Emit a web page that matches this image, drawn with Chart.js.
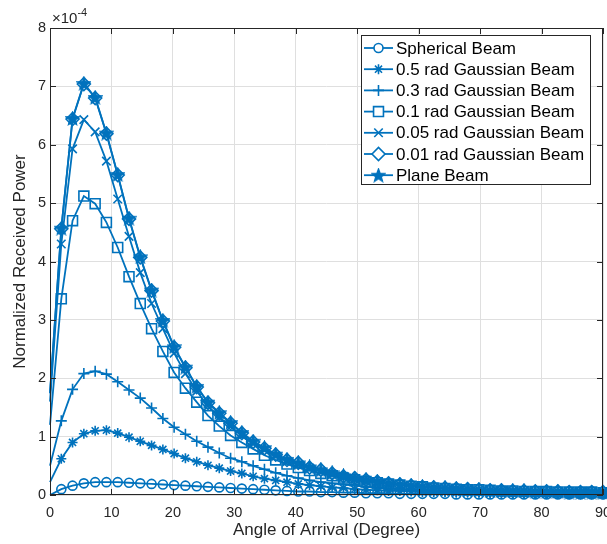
<!DOCTYPE html>
<html>
<head>
<meta charset="utf-8">
<script src="https://cdn.jsdelivr.net/npm/chart.js@4/dist/chart.umd.min.js"></script>
<style>
html, body { margin: 0; padding: 0; background: #fff; }
#wrap { width: 607px; height: 544px; position: relative; }
</style>
</head>
<body>
<div id="wrap"><canvas id="chart"></canvas></div>
<script>
// Angle of arrival (degrees), 50 samples between 0 and 90
const angles = [0, 1.84, 3.67, 5.51, 7.35, 9.18, 11.02, 12.86, 14.69, 16.53,
  18.37, 20.20, 22.04, 23.88, 25.71, 27.55, 29.39, 31.22, 33.06, 34.90,
  36.73, 38.57, 40.41, 42.24, 44.08, 45.92, 47.76, 49.59, 51.43, 53.27,
  55.10, 56.94, 58.78, 60.61, 62.45, 64.29, 66.12, 67.96, 69.80, 71.63,
  73.47, 75.31, 77.14, 78.98, 80.82, 82.65, 84.49, 86.33, 88.16, 90.00];

// Normalized received power, in units of 1e-4
const spherical = [0, 0.10, 0.16, 0.20, 0.22, 0.22, 0.22, 0.21, 0.20, 0.19,
  0.18, 0.17, 0.16, 0.15, 0.14, 0.13, 0.12, 0.11, 0.10, 0.09,
  0.08, 0.07, 0.06, 0.06, 0.05, 0.05, 0.04, 0.04, 0.03, 0.03,
  0.03, 0.02, 0.02, 0.02, 0.02, 0.02, 0.01, 0.01, 0.01, 0.01,
  0.01, 0.01, 0.01, 0.01, 0.01, 0.01, 0.01, 0.01, 0.01, 0.01];
const gauss05 = [0.22, 0.62, 0.90, 1.05, 1.10, 1.11, 1.06, 0.99, 0.92, 0.85,
  0.78, 0.71, 0.63, 0.57, 0.51, 0.46, 0.41, 0.37, 0.32, 0.28,
  0.25, 0.22, 0.19, 0.17, 0.15, 0.13, 0.12, 0.10, 0.09, 0.08,
  0.07, 0.07, 0.06, 0.05, 0.05, 0.05, 0.04, 0.04, 0.04, 0.03,
  0.03, 0.03, 0.03, 0.03, 0.02, 0.02, 0.02, 0.02, 0.02, 0.02];
const gauss03 = [0.50, 1.27, 1.81, 2.08, 2.12, 2.07, 1.94, 1.80, 1.66, 1.49,
  1.31, 1.16, 1.04, 0.92, 0.82, 0.72, 0.63, 0.57, 0.50, 0.44,
  0.38, 0.33, 0.29, 0.25, 0.22, 0.20, 0.18, 0.16, 0.14, 0.12,
  0.11, 0.10, 0.09, 0.08, 0.07, 0.07, 0.06, 0.06, 0.05, 0.05,
  0.05, 0.04, 0.04, 0.04, 0.04, 0.03, 0.03, 0.03, 0.03, 0.03];
const gauss01 = [1.20, 3.36, 4.70, 5.12, 4.99, 4.67, 4.24, 3.74, 3.28, 2.85,
  2.46, 2.10, 1.83, 1.59, 1.36, 1.18, 1.02, 0.90, 0.79, 0.68,
  0.60, 0.53, 0.47, 0.42, 0.37, 0.33, 0.29, 0.26, 0.23, 0.21,
  0.19, 0.17, 0.15, 0.14, 0.12, 0.11, 0.10, 0.09, 0.09, 0.08,
  0.07, 0.07, 0.06, 0.06, 0.06, 0.05, 0.05, 0.05, 0.05, 0.04];
const gauss005 = [1.60, 4.30, 5.93, 6.43, 6.22, 5.72, 5.07, 4.43, 3.81, 3.28,
  2.85, 2.43, 2.08, 1.78, 1.52, 1.33, 1.17, 1.02, 0.88, 0.77,
  0.67, 0.58, 0.52, 0.46, 0.41, 0.36, 0.32, 0.28, 0.25, 0.22,
  0.20, 0.18, 0.16, 0.14, 0.13, 0.12, 0.11, 0.10, 0.09, 0.08,
  0.08, 0.07, 0.07, 0.06, 0.06, 0.06, 0.05, 0.05, 0.05, 0.05];
const gauss001 = [1.74, 4.56, 6.44, 7.04, 6.80, 6.19, 5.48, 4.73, 4.07, 3.50,
  2.98, 2.53, 2.18, 1.85, 1.58, 1.40, 1.23, 1.06, 0.91, 0.80,
  0.69, 0.60, 0.55, 0.47, 0.43, 0.37, 0.32, 0.29, 0.26, 0.23,
  0.20, 0.18, 0.16, 0.14, 0.13, 0.12, 0.11, 0.10, 0.09, 0.08,
  0.08, 0.07, 0.07, 0.06, 0.06, 0.06, 0.05, 0.05, 0.05, 0.05];
const plane = [1.75, 4.57, 6.45, 7.05, 6.81, 6.20, 5.49, 4.74, 4.08, 3.51,
  2.99, 2.54, 2.19, 1.86, 1.59, 1.41, 1.24, 1.07, 0.92, 0.81,
  0.70, 0.61, 0.55, 0.48, 0.43, 0.38, 0.33, 0.29, 0.26, 0.23,
  0.20, 0.18, 0.16, 0.14, 0.13, 0.12, 0.11, 0.10, 0.09, 0.08,
  0.08, 0.07, 0.07, 0.06, 0.06, 0.06, 0.05, 0.05, 0.05, 0.05];

const seriesLabels = ['Spherical Beam', '0.5 rad Gaussian Beam', '0.3 rad Gaussian Beam',
  '0.1 rad Gaussian Beam', '0.05 rad Gaussian Beam', '0.01 rad Gaussian Beam', 'Plane Beam'];
const seriesValues = [spherical, gauss05, gauss03, gauss01, gauss005, gauss001, plane];

const xTicks = [0, 10, 20, 30, 40, 50, 60, 70, 80, 90];
const yTicks = [0, 1, 2, 3, 4, 5, 6, 7, 8];
const yExponent = '-4';

const BLUE = '#0072BD';
const FONT = "'Liberation Sans', Arial, Helvetica, sans-serif";

// filled pentagram, Chart.js has no such point style
function pentagram(size) {
    const c = document.createElement('canvas');
    c.width = size; c.height = size;
    const g = c.getContext('2d');
    const ro = size / 2 - 0.5, ri = ro * 0.42;
    g.beginPath();
    for (let k = 0; k < 10; k++) {
        const r = k % 2 ? ri : ro;
        const a = -Math.PI / 2 + k * Math.PI / 5;
        g.lineTo(size / 2 + r * Math.cos(a), size / 2 + r * Math.sin(a) + 0.5);
    }
    g.closePath();
    g.fillStyle = BLUE;
    g.fill();
    g.strokeStyle = BLUE;
    g.lineWidth = 1.2;
    g.stroke();
    return c;
}
const starImg = pentagram(15);

const markers = [
    { style: 'circle', r: 4.5 },
    { style: 'star', r: 5 },
    { style: 'cross', r: 5.5 },
    { style: 'rect', r: 7 },
    { style: 'crossRot', r: 6 },
    { style: 'rectRot', r: 6.5 },
    { style: starImg, r: 7.5 }
];

const datasets = seriesValues.map((vals, i) => ({
    label: seriesLabels[i],
    data: vals.map((v, k) => ({ x: angles[k], y: v })),
    borderColor: BLUE,
    backgroundColor: 'rgba(0,0,0,0)',
    borderWidth: 1.8,
    pointStyle: markers[i].style,
    pointRadius: ctx => ctx.dataIndex === 0 ? 0 : markers[i].r,
    pointBorderColor: BLUE,
    pointBackgroundColor: 'rgba(0,0,0,0)',
    pointBorderWidth: 1.6,
    tension: 0,
    clip: false,
    order: seriesValues.length - i
}));

// Box, inward ticks and exponent label
const axesBox = {
    id: 'axesBox',
    afterDatasetsDraw(chart) {
        const { ctx, chartArea: a, scales: { x, y } } = chart;
        ctx.save();
        ctx.strokeStyle = '#262626';
        ctx.lineWidth = 1;
        ctx.beginPath();
        xTicks.forEach(v => {
            const px = Math.round(x.getPixelForValue(v)) + 0.5;
            ctx.moveTo(px, a.bottom); ctx.lineTo(px, a.bottom - 6);
            ctx.moveTo(px, a.top); ctx.lineTo(px, a.top + 6);
        });
        yTicks.forEach(v => {
            const py = Math.round(y.getPixelForValue(v)) + 0.5;
            ctx.moveTo(a.left, py); ctx.lineTo(a.left + 6, py);
            ctx.moveTo(a.right, py); ctx.lineTo(a.right - 6, py);
        });
        ctx.stroke();
        ctx.strokeRect(a.left + 0.5, a.top + 0.5, a.width - 1, a.height - 1);

        ctx.fillStyle = '#262626';
        ctx.textBaseline = 'middle';
        ctx.textAlign = 'left';
        ctx.font = '15px ' + FONT;
        ctx.fillText('\u00d710', a.left + 2, 19);
        const w = ctx.measureText('\u00d710').width;
        ctx.font = '11px ' + FONT;
        ctx.fillText(yExponent, a.left + 2 + w, 13);
        ctx.restore();
    }
};

// MATLAB-like legend: line with marker, then label
const boxLegend = {
    id: 'boxLegend',
    afterDraw(chart) {
        const { ctx } = chart;
        const left = 361, top = 35, right = 591, bottom = 185;
        ctx.save();
        ctx.fillStyle = '#fff';
        ctx.fillRect(left, top, right - left, bottom - top);
        ctx.strokeStyle = '#262626';
        ctx.lineWidth = 1;
        ctx.strokeRect(left + 0.5, top + 0.5, right - left - 1, bottom - top - 1);
        datasets.forEach((ds, i) => {
            const yy = top + 13 + i * 21.2;
            ctx.strokeStyle = BLUE;
            ctx.lineWidth = 1.8;
            ctx.beginPath();
            ctx.moveTo(364, yy); ctx.lineTo(393, yy);
            ctx.stroke();
            ctx.lineWidth = 1.6;
            ctx.fillStyle = '#fff';
            Chart.helpers.drawPoint(ctx, {
                pointStyle: markers[i].style, radius: markers[i].r, rotation: 0, borderWidth: 1.6
            }, 378.5, yy);
            ctx.fillStyle = '#000';
            ctx.font = '17px ' + FONT;
            ctx.textBaseline = 'middle';
            ctx.textAlign = 'left';
            ctx.fillText(ds.label, 396, yy + 1);
        });
        ctx.restore();
    }
};

const ctx = document.getElementById('chart').getContext('2d');
const chart = new Chart(ctx, {
    type: 'line',
    data: { datasets },
    options: {
        responsive: true,
        maintainAspectRatio: false,
        animation: false,
        layout: { autoPadding: false, padding: { top: 28, right: 4, left: 0, bottom: 0 } },
        scales: {
            x: {
                type: 'linear',
                min: 0, max: 90,
                afterBuildTicks: s => { s.ticks = xTicks.map(v => ({ value: v })); },
                afterFit: s => { s.height = 49; s.paddingLeft = 0; s.paddingRight = 0; },
                grid: { color: '#dfdfdf', drawTicks: false },
                border: { display: false },
                ticks: { color: '#262626', font: { family: FONT, size: 14.5 }, padding: 9, maxRotation: 0 },
                title: {
                    display: true, text: 'Angle of Arrival (Degree)', color: '#262626',
                    font: { family: FONT, size: 17 }, padding: { top: 0, bottom: 3 }
                }
            },
            y: {
                min: 0, max: 8,
                afterBuildTicks: s => { s.ticks = yTicks.map(v => ({ value: v })); },
                afterFit: s => { s.width = 50; s.paddingTop = 0; s.paddingBottom = 0; },
                grid: { color: '#dfdfdf', drawTicks: false },
                border: { display: false },
                ticks: { color: '#262626', font: { family: FONT, size: 14.5 }, padding: 4 },
                title: {
                    display: true, text: 'Normalized Received Power', color: '#262626',
                    font: { family: FONT, size: 17 }, padding: { top: 10, bottom: 0 }
                }
            }
        },
        plugins: {
            legend: { display: false },
            tooltip: { enabled: false }
        }
    },
    plugins: [axesBox, boxLegend]
});
</script>
</body>
</html>
